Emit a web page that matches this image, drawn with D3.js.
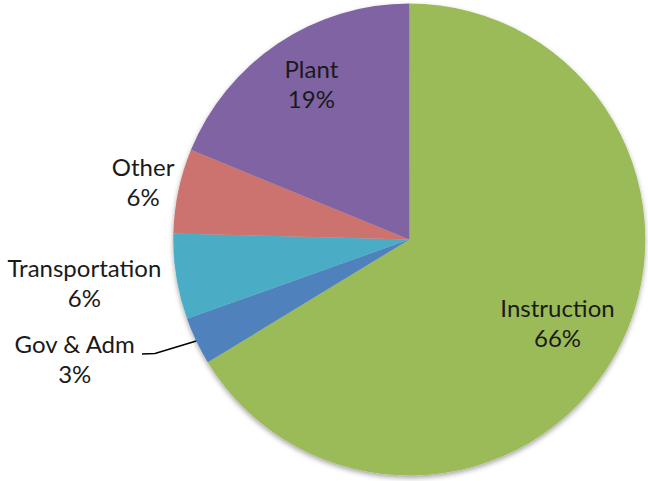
<!DOCTYPE html>
<html><head><meta charset="utf-8">
<script src="https://cdn.jsdelivr.net/npm/d3@7"></script>
<style>html,body{margin:0;padding:0;background:#fff;}svg{display:block;}</style>
</head><body>
<script>
const categories = ["Instruction", "Gov & Adm", "Transportation", "Other", "Plant"];
const values = [66.3, 3.25, 5.86, 5.8, 18.8];
const colors = ["#9BBB59", "#4F81BD", "#4BACC6", "#CC7370", "#8064A2"];

const W = 648, H = 481;
const cx = 409.3, cy = 239.5, R = 236;
// label layout: radius along slice mid-angle plus small pixel nudge
const labelLayout = [
  {r: 170, dx: 0, dy: 1},
  {r: null, x: -334.6, y: 120},
  {r: 328, dx: -1, dy: -7},
  {r: 272, dx: 0, dy: 0},
  {r: 183, dx: 4, dy: -3}
];

const svg = d3.select("body").append("svg").attr("width", W).attr("height", H);
const defs = svg.append("defs");
const f = defs.append("filter").attr("id","sh").attr("x","-10%").attr("y","-10%").attr("width","120%").attr("height","125%");
f.append("feDropShadow").attr("dx",0).attr("dy",2.5).attr("stdDeviation",2.5).attr("flood-color","#000").attr("flood-opacity",0.35);

const total = d3.sum(values);
const data = categories.map((c,i)=>({name:c, value:values[i], color:colors[i], i}));
const pie = d3.pie().value(d=>d.value).sort(null);
const arcs = pie(data);
const arc = d3.arc().innerRadius(0).outerRadius(R);

const g = svg.append("g").attr("transform", `translate(${cx},${cy})`);
g.append("g").attr("filter","url(#sh)")
  .selectAll("path").data(arcs).join("path")
  .attr("d", arc).attr("fill", d=>d.data.color);

// leader line for Gov & Adm
const gov = arcs[1];
const midG = (gov.startAngle + gov.endAngle)/2;
const p0 = [Math.sin(midG)*R, -Math.cos(midG)*R];
g.append("path")
  .attr("d", d3.line()([p0, [155-cx, 353.5-cy], [142-cx, 354-cy]]))
  .attr("fill","none").attr("stroke","#000").attr("stroke-width",1.6);

const font = "Lato, 'Open Sans', sans-serif";
arcs.forEach((a,i)=>{
  const L = labelLayout[i];
  let x, y;
  if (L.r === null) { x = L.x; y = L.y; }
  else {
    const m = (a.startAngle + a.endAngle)/2;
    x = Math.sin(m)*L.r + L.dx; y = -Math.cos(m)*L.r + L.dy;
  }
  const t = g.append("text").attr("text-anchor","middle")
    .attr("font-family", font).attr("font-size", 24).attr("fill","#1a1a1a");
  t.append("tspan").attr("x", x).attr("y", y - 7).text(a.data.name);
  t.append("tspan").attr("x", x).attr("y", y + 23).text(Math.round(a.data.value/total*100) + "%");
});
</script>
</body></html>
